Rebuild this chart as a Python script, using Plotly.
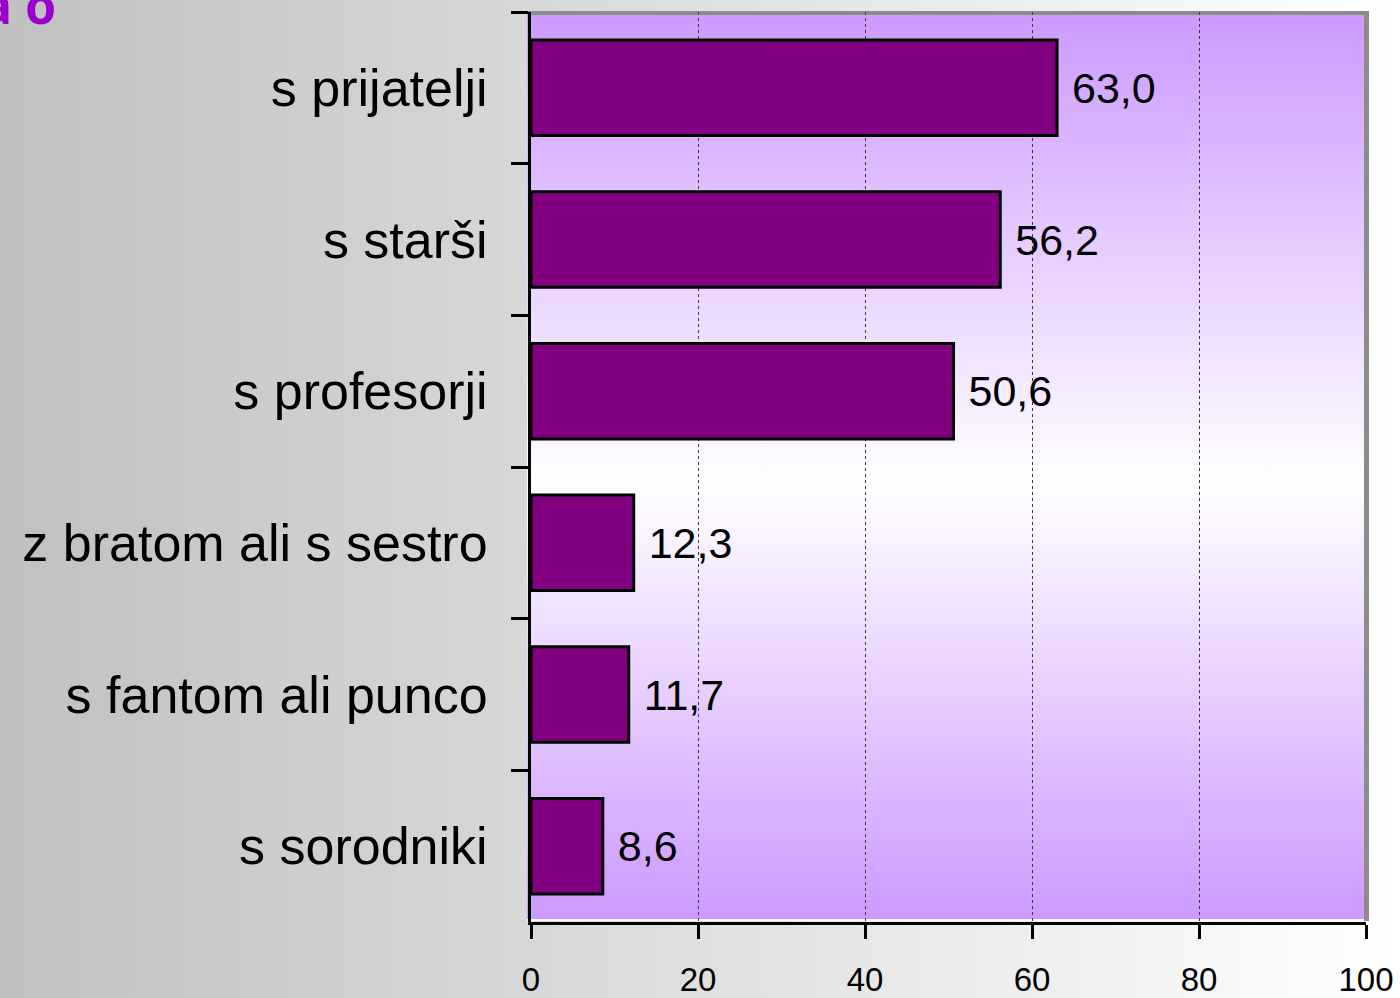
import base64
import plotly.graph_objects as go

# Data
categories = ["s prijatelji", "s starši", "s profesorji", "z bratom ali s sestro",
              "s fantom ali punco", "s sorodniki"]
values = [63.0, 56.2, 50.6, 12.3, 11.7, 8.6]
x_ticks = [0, 20, 40, 60, 80, 100]

W, H = 1400, 998


def svg_uri(svg):
    return "data:image/svg+xml;base64," + base64.b64encode(svg.encode()).decode()


# gray page gradient, left -> right
page_svg = (
    f'<svg xmlns="http://www.w3.org/2000/svg" width="{W}" height="{H}" viewBox="0 0 {W} {H}" preserveAspectRatio="none">'
    '<defs><linearGradient id="g" x1="0" y1="0" x2="1" y2="0">'
    '<stop offset="0" stop-color="#c0c0c0"/><stop offset="1" stop-color="#ffffff"/>'
    '</linearGradient></defs><rect width="100%" height="100%" fill="url(#g)"/></svg>'
)

# plot area: purple - white - purple, gray border top/right
pl, pt, pr, pb = 527, 11, 1369, 921
pw, ph = pr - pl, pb - pt
plot_svg = (
    f'<svg xmlns="http://www.w3.org/2000/svg" width="{pw}" height="{ph}" viewBox="0 0 {pw} {ph}" preserveAspectRatio="none">'
    '<defs><linearGradient id="p" x1="0" y1="0" x2="0" y2="1">'
    '<stop offset="0" stop-color="#cc99ff"/><stop offset="0.52" stop-color="#ffffff"/>'
    '<stop offset="1" stop-color="#cc99ff"/></linearGradient></defs>'
    f'<rect width="{pw}" height="{ph}" fill="url(#p)"/>'
    f'<rect x="0" y="0" width="{pw}" height="4" fill="#8c8c8c"/>'
    f'<rect x="{pw - 5}" y="0" width="5" height="{ph}" fill="#8c8c8c"/>'
    f'<rect x="0" y="{ph - 2}" width="{pw - 5}" height="2" fill="#ffffff"/>'
    '</svg>'
)

fig = go.Figure()

fig.add_trace(go.Bar(
    y=categories,
    x=values,
    orientation="h",
    width=0.63,
    marker=dict(color="#800080", line=dict(color="black", width=3)),
    text=["\u00a0" + f"{v:.1f}".replace(".", ",") for v in values],
    textposition="outside",
    cliponaxis=False,
    textfont=dict(family="Liberation Sans, Arial", size=43, color="black"),
    hoverinfo="skip",
))

fig.update_layout(
    width=W,
    height=H,
    margin=dict(l=0, r=0, t=0, b=0, autoexpand=False),
    paper_bgcolor="rgba(0,0,0,0)",
    plot_bgcolor="rgba(0,0,0,0)",
    showlegend=False,
    font=dict(family="Liberation Sans, Arial", color="black"),
    xaxis=dict(
        domain=[531 / W, 1366 / W],
        range=[0, 100],
        automargin=False,
        tickvals=x_ticks,
        ticks="outside", ticklen=14, tickwidth=3, tickcolor="black",
        showline=True, linecolor="black", linewidth=3,
        showgrid=True, gridcolor="#3a3a3a", gridwidth=1, griddash="dot",
        zeroline=False,
        tickfont=dict(size=33),
        ticklabelstandoff=12,
    ),
    yaxis=dict(
        domain=[1 - 922 / H, 1 - 12 / H],
        autorange="reversed",
        automargin=False,
        tickson="boundaries",
        ticks="outside", ticklen=17, tickwidth=3, tickcolor="black",
        showline=True, linecolor="black", linewidth=3,
        showgrid=False,
        tickfont=dict(size=52),
        ticklabelstandoff=30,
    ),
    images=[
        dict(source=svg_uri(page_svg), xref="paper", yref="paper", x=0, y=1,
             sizex=1, sizey=1, xanchor="left", yanchor="top",
             sizing="stretch", layer="below"),
        dict(source=svg_uri(plot_svg), xref="paper", yref="paper",
             x=pl / W, y=1 - pt / H, sizex=pw / W, sizey=ph / H,
             xanchor="left", yanchor="top", sizing="stretch", layer="below"),
    ],
    annotations=[
        # cut-off title fragment at the top-left corner
        dict(text="a\u00a0o", xref="paper", yref="paper", x=-20 / W, y=1 - 5 / H,
             xanchor="left", yanchor="middle", showarrow=False,
             font=dict(family="Noto Sans", size=50, color="#9900cc", weight="bold")),
    ],
)

fig.write_html("out.html", config={"responsive": False, "displayModeBar": False})

# drop the browser's default page margin so the figure fills the window
with open("out.html", encoding="utf-8") as f:
    html = f.read()
html = html.replace("<head>", "<head><style>html,body{margin:0;padding:0;overflow:hidden;}</style>", 1)
with open("out.html", "w", encoding="utf-8") as f:
    f.write(html)
